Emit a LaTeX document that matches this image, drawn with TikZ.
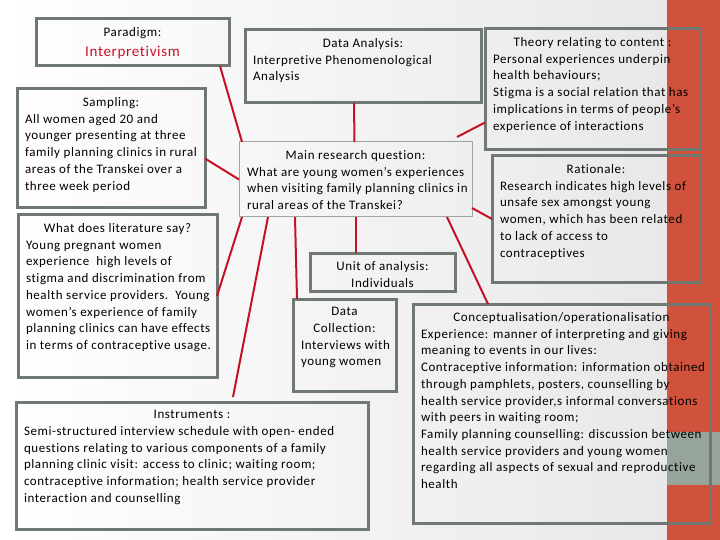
\documentclass[tikz,border=0pt]{standalone}
\usepackage{fontspec}
\setmainfont{Carlito}[LetterSpace=4.5,Ligatures={NoCommon,NoRare,NoDiscretionary}]
\usetikzlibrary{calc}
\definecolor{bordergrey}{RGB}{112,120,116}
\definecolor{thingrey}{RGB}{160,164,162}
\definecolor{linered}{RGB}{196,18,36}
\definecolor{bandred}{RGB}{208,82,60}
\definecolor{bandgrey}{RGB}{150,164,156}
\definecolor{titlered}{RGB}{200,16,40}
\newcommand\diabox[8]{%
  \pgfmathsetmacro\cx{(#3+#5)/2}\pgfmathsetmacro\cy{(#4+#6)/2}%
  \pgfmathsetmacro\ww{#5-#3-16}\pgfmathsetmacro\hh{#6-#4-17}%
  \node[#1] (#2) at (\cx,\cy) {\parbox[c][\hh pt][t]{\ww pt}{\centering #7\par\raggedright
    \begin{tabular}[t]{@{}l@{}}#8\end{tabular}}};}
\begin{document}
\begin{tikzpicture}[x=1pt,y=-1pt,
  boxbase/.style={inner xsep=8pt,inner ysep=8.5pt,outer sep=0pt,
    font=\fontsize{13}{16.7}\selectfont},
  thickbox/.style={boxbase,draw=bordergrey,line width=3pt},
  thinbox/.style={boxbase,draw=thingrey,line width=1pt},
  conn/.style={draw=linered,line width=2pt}]
\useasboundingbox (0,0) rectangle (720,540);
\shade[left color=white,right color=black!9] (0,0) rectangle (667,540);
\fill[bandred] (667,0) rectangle (720,540);
\fill[bandgrey] (667,432) rectangle (720,485);

\diabox{thickbox}{para}{36}{19}{229}{66}{Paradigm:\par{\fontsize{15}{20}\selectfont\color{titlered}Interpretivism\par}}{}
\diabox{thickbox}{samp}{17}{89}{205}{208}{Sampling:}{All women aged 20 and\\younger presenting at three\\family planning clinics in rural\\areas of the Transkei over a\\three week period}
\diabox{thickbox}{lit}{18}{215}{217}{377}{What does literature say?}{Young pregnant women\\experience\ \ high levels of\\stigma and discrimination from\\health service providers.\ \ Young\\women’s experience of family\\planning clinics can have effects\\in terms of contraceptive usage.}
\diabox{thickbox}{ana}{245}{30}{481}{103}{Data Analysis:}{Interpretive Phenomenological\\Analysis}
\diabox{thickbox}{theo}{485}{29}{700}{150}{Theory relating to content :}{Personal experiences underpin\\health behaviours;\\Stigma is a social relation that has\\implications in terms of people’s\\experience of interactions}
\diabox{thinbox}{q}{239}{142}{472}{217}{Main research question:}{What are young women’s experiences\\when visiting family planning clinics in\\rural areas of the Transkei?}
\diabox{thickbox}{rat}{492}{156}{700}{282}{Rationale:}{Research indicates high levels of\\unsafe sex amongst young\\women, which has been related\\to lack of access to\\contraceptives}
\diabox{thickbox}{unit}{310}{253}{455}{291}{Unit of analysis:\\Individuals}{}
\diabox{thickbox}{col}{293}{299}{396}{391}{Data\\Collection:}{Interviews with\\young women}
\diabox{thickbox}{con}{413}{304}{710}{523}{Conceptualisation/operationalisation}{Experience: manner of interpreting and giving\\meaning to events in our lives:\\Contraceptive information: information obtained\\through pamphlets, posters, counselling by\\health service provider,s informal conversations\\with peers in waiting room;\\Family planning counselling: discussion between\\health service providers and young women\\regarding all aspects of sexual and reproductive\\health}
\diabox{thickbox}{ins}{16}{402}{368}{529}{Instruments :}{Semi-structured interview schedule with open- ended\\questions relating to various components of a family\\planning clinic visit: access to clinic; waiting room;\\contraceptive information; health service provider\\interaction and counselling}

\draw[conn] ([xshift=-9pt]para.south east) -- ([xshift=3pt]q.north west);
\draw[conn] ([yshift=-10pt]samp.east) -- (q.west);
\draw[conn] ([xshift=-9pt]ana.south) -- ([xshift=-1pt]q.north);
\draw[conn] ([xshift=-15pt,yshift=5pt]q.north east) -- ([yshift=-33pt]theo.west);
\draw[conn] ([yshift=9pt]q.south east) -- (rat.west);
\draw[conn] ([xshift=-25pt]q.south east) -- ([xshift=75pt]con.north west);
\draw[conn] (q.south) -- ([xshift=-27pt]unit.north);
\draw[conn] ([xshift=56pt]q.south west) -- ([xshift=4pt]col.north west);
\draw[conn] ([xshift=29pt]q.south west) -- ([xshift=41pt,yshift=5pt]ins.north);
\draw[conn] ([xshift=3pt]q.south west) -- (lit.east);
\end{tikzpicture}
\end{document}
